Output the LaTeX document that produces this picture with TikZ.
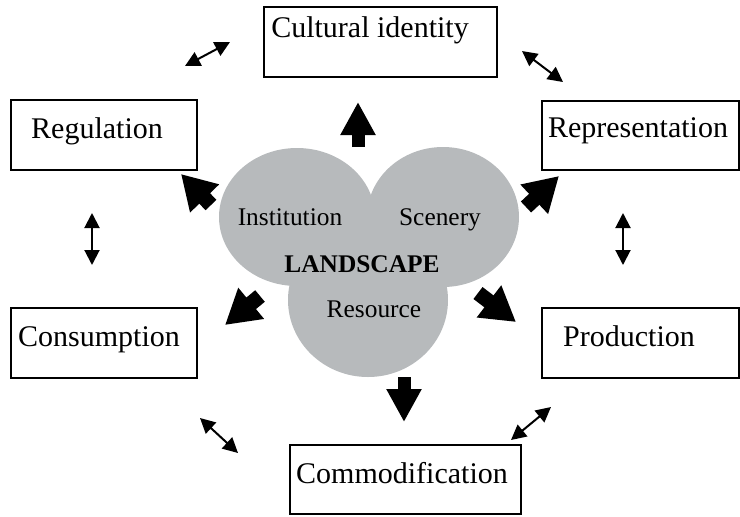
\documentclass[tikz,border=0pt]{standalone}
\usepackage{fontspec}
\setmainfont{Liberation Serif}
\usetikzlibrary{arrows.meta}
\definecolor{blobgray}{RGB}{183,186,188}

\begin{document}
\begin{tikzpicture}[x=0.5pt,y=-0.5pt,
  box/.style={draw,line width=1pt,inner sep=0pt},
  lbl/.style={font=\fontsize{15}{18}\selectfont,anchor=base,inner sep=0pt},
  inlbl/.style={font=\fontsize{12.7}{15}\selectfont,anchor=base,inner sep=0pt},
  bigarrow/.style={line width=6.5pt,-{Triangle[length=16.5pt,width=16.5pt]}},
  diagarrow/.style={line width=7.5pt,-{Triangle[length=17pt,width=19pt]}},
  dblarrow/.style={line width=1pt,{Triangle[length=7.5pt,width=7.5pt]}-{Triangle[length=7.5pt,width=7.5pt]}}]
  \useasboundingbox (0,0) rectangle (740,516);

  % Landscape blob
  \fill[blobgray] (297,217) ellipse [x radius=78, y radius=69];
  \fill[blobgray] (443,217) ellipse [x radius=76, y radius=70];
  \fill[blobgray] (368,300) ellipse [x radius=80, y radius=77];

  \node[inlbl] (inst) at (290,225) {Institution};
  \node[inlbl] (scen) at (440,225) {Scenery};
  \node[inlbl,font=\fontsize{12.7}{15}\selectfont\bfseries] (land) at (362,272) {LANDSCAPE};
  \node[inlbl] (res) at (374,317) {Resource};

  % Boxes
  \node[box,minimum width=116.5pt,minimum height=35pt] (cult) at (380.5,42) {};
  \node[box,minimum width=93pt,minimum height=35pt] (reg) at (104,135) {};
  \node[box,minimum width=98.5pt,minimum height=34.5pt] (repr) at (640.5,135.5) {};
  \node[box,minimum width=93pt,minimum height=35pt] (cons) at (104,343) {};
  \node[box,minimum width=98.5pt,minimum height=35pt] (prod) at (640.5,343) {};
  \node[box,minimum width=115.5pt,minimum height=34.5pt] (comm) at (405.5,479.5) {};

  \node[lbl] (cultT) at (370,37) {Cultural identity};
  \node[lbl] (regT) at (97,138) {Regulation};
  \node[lbl] (reprT) at (638,137) {Representation};
  \node[lbl] (consT) at (99,346) {Consumption};
  \node[lbl] (prodT) at (629,346) {Production};
  \node[lbl] (commT) at (402,483) {Commodification};

  % Block arrows out of the blob
  \coordinate (upS) at (358,147);  \coordinate (upT) at (358,102);
  \coordinate (dnS) at (404,377);  \coordinate (dnT) at (404,422);
  \draw[bigarrow] (upS) -- (upT);
  \draw[bigarrow] (dnS) -- (dnT);
  \coordinate (ulS) at (211,205);  \coordinate (ulT) at (181,174);
  \coordinate (urS) at (526,207);  \coordinate (urT) at (559,176);
  \coordinate (llS) at (260,296);  \coordinate (llT) at (225,325);
  \coordinate (lrS) at (478,293);  \coordinate (lrT) at (516,322);
  \foreach \a in {ul,ur,ll,lr}
    \draw[diagarrow] (\a S) -- (\a T);

  % Links between the boxes
  \coordinate (a1) at (185,66);   \coordinate (b1) at (230,42);
  \coordinate (a2) at (522,51);   \coordinate (b2) at (563,82);
  \coordinate (a3) at (92,213);   \coordinate (b3) at (92,265);
  \coordinate (a4) at (623,213);  \coordinate (b4) at (623,265);
  \coordinate (a5) at (200,418);  \coordinate (b5) at (238,453);
  \coordinate (a6) at (551,407);  \coordinate (b6) at (511,440);
  \foreach \i in {1,...,6}
    \draw[dblarrow] (a\i) -- (b\i);
\end{tikzpicture}
\end{document}
